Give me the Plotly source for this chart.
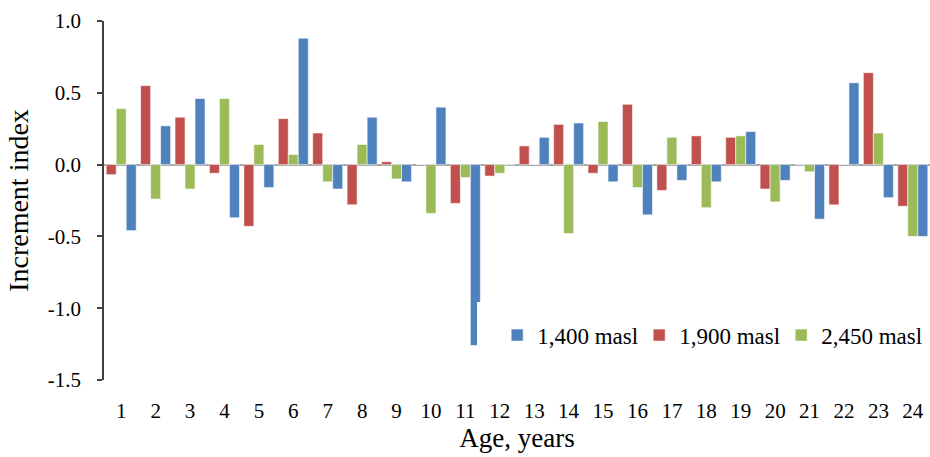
import plotly.graph_objects as go

ages = [str(i) for i in range(1, 25)]
masl_1400 = [-0.46, 0.27, 0.46, -0.37, -0.16, 0.88, -0.17, 0.33, -0.12, 0.40, -1.26, 0.0,
             0.19, 0.29, -0.12, -0.35, -0.11, -0.12, 0.23, -0.11, -0.38, 0.57, -0.23, -0.50]
masl_1900 = [-0.07, 0.55, 0.33, -0.06, -0.43, 0.32, 0.22, -0.28, 0.02, 0.0, -0.27, -0.08,
             0.13, 0.28, -0.06, 0.42, -0.18, 0.20, 0.19, -0.17, 0.0, -0.28, 0.64, -0.29]
masl_2450 = [0.39, -0.24, -0.17, 0.46, 0.14, 0.07, -0.12, 0.14, -0.10, -0.34, -0.09, -0.06,
             0.0, -0.48, 0.30, -0.16, 0.19, -0.30, 0.20, -0.26, -0.05, 0.0, 0.22, -0.50]
ytick_vals = [-1.5, -1.0, -0.5, 0.0, 0.5, 1.0]
ytick_text = ["-1.5", "-1.0", "-0.5", "0.0", "0.5", "1.0"]

FONT = "Liberation Serif, Times New Roman, serif"
edge = dict(color="rgba(255,255,255,0.7)", width=0.8)

fig = go.Figure()
fig.add_trace(go.Bar(x=ages, y=masl_1900, name="1,900 masl", marker=dict(color="#C0504D", line=edge), legendrank=2))
fig.add_trace(go.Bar(x=ages, y=masl_2450, name="2,450 masl", marker=dict(color="#9BBB59", line=edge), legendrank=3))
fig.add_trace(go.Bar(x=ages, y=masl_1400, name="1,400 masl", marker=dict(color="#4F81BD", line=edge), legendrank=1))

fig.update_layout(
    width=930, height=457,
    margin=dict(l=104, r=0, t=21, b=77, autoexpand=False),
    paper_bgcolor="white", plot_bgcolor="white",
    barmode="group", bargap=0.128, bargroupgap=0,
    font=dict(family=FONT, color="black", size=21),
    showlegend=True,
    legend=dict(orientation="h", x=0.476, y=0.125, xanchor="left", yanchor="middle",
                bgcolor="white", font=dict(family=FONT, size=23), entrywidth=97,
                traceorder="normal"),
    # white backdrop of the legend area (as in the original, it masks the bars beneath)
    shapes=[dict(type="rect", xref="paper", yref="paper", x0=0.4516, x1=1.0, y0=0.05, y1=0.217,
                 fillcolor="white", line=dict(width=0), layer="above")],
)
fig.update_xaxes(
    type="category", showgrid=False, showline=False, zeroline=False, automargin=False,
    tickmode="array", tickvals=ages, ticktext=ages,
    ticks="outside", ticklen=0, ticklabelstandoff=12,
    tickfont=dict(family=FONT, size=21),
    title=dict(text="Age, years", font=dict(family=FONT, size=27), standoff=4),
)
fig.update_yaxes(
    range=[-1.5, 1.0], tickvals=ytick_vals, ticktext=ytick_text, automargin=False,
    showgrid=False, showline=True, linecolor="#404040", linewidth=1.5,
    ticks="outside", ticklen=5, tickcolor="#404040", tickwidth=1.5, ticklabelstandoff=12,
    zeroline=True, zerolinecolor="#A6A6A6", zerolinewidth=2,
    tickfont=dict(family=FONT, size=21),
    title=dict(text="Increment index", font=dict(family=FONT, size=28), standoff=11),
)

fig.write_html("out.html", config={"displayModeBar": False},
               post_script="document.body.style.margin='0';")
